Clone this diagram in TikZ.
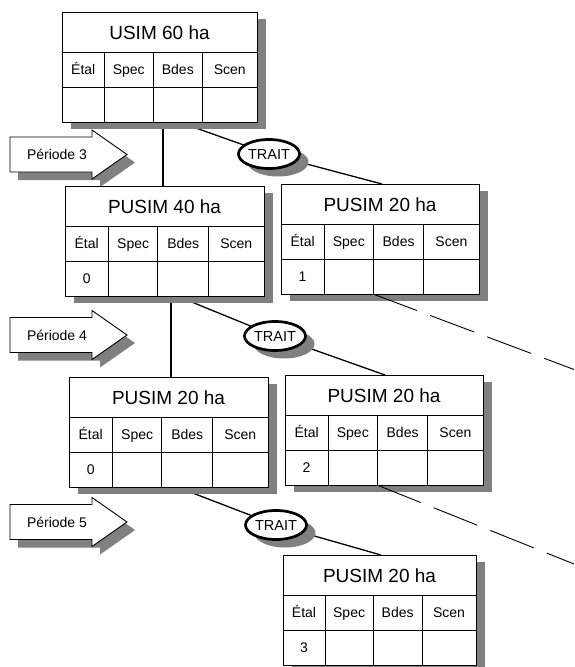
\documentclass[tikz,border=0pt]{standalone}
\usepackage{fontspec}
\setmainfont{Liberation Sans}
\usetikzlibrary{shadows,calc,shapes.geometric,backgrounds}
\pgfdeclarelayer{canvas}
\pgfsetlayers{canvas,background,main}
\tikzset{
  tframe/.style={draw=black, line width=0.9pt, fill=white, minimum height=110pt, inner sep=0pt, outer sep=0pt,
    drop shadow={shadow xshift=9pt, shadow yshift=-7pt, fill=black!50, opacity=1}},
  tline/.style={draw=black, line width=0.9pt},
  ttitle/.style={font=\fontsize{19}{22}\selectfont, inner sep=0pt, text height=13.6pt, text depth=0pt},
  thead/.style={font=\fontsize{14}{16}\selectfont, inner sep=0pt, text height=10pt, text depth=0pt},
  trait/.style={ellipse, draw=black, line width=2.7pt, fill=white, minimum width=61pt, minimum height=29pt,
    inner sep=0pt, font=\fontsize{14.5}{16}\selectfont, text height=10.4pt, text depth=0pt,
    drop shadow={shadow xshift=9pt, shadow yshift=-8pt, fill=black!50, opacity=1}},
  conn/.style={draw=black, line width=1.3pt},
  dashconn/.style={draw=black, line width=0.9pt, dash pattern=on 47pt off 14pt},
  perlabel/.style={font=\fontsize{14}{16}\selectfont, inner sep=0pt, text height=10pt, text depth=0pt},
  pershape/.style={draw=black, line width=0.9pt, fill=white},
  pershadow/.style={fill=black!50},
}
\newcommand\tbox[6]{%
  \pgfmathsetmacro\tbxa{#2+0.218*#4}%
  \pgfmathsetmacro\tbxb{#2+0.467*#4}%
  \pgfmathsetmacro\tbxc{#2+0.721*#4}%
  \pgfmathsetmacro\tbxr{#2+#4}%
  \node[tframe, minimum width=#4pt, anchor=north west] (#1) at (#2,#3) {};
  \draw[tline] (#2,#3+40) -- (\tbxr,#3+40);
  \draw[tline] (#2,#3+75) -- (\tbxr,#3+75);
  \draw[tline] (\tbxa,#3+40) -- (\tbxa,#3+110);
  \draw[tline] (\tbxb,#3+40) -- (\tbxb,#3+110);
  \draw[tline] (\tbxc,#3+40) -- (\tbxc,#3+110);
  \node[ttitle] (#1-t) at ($(#1.north)+(0,21)$) {#5};
  \node[thead] (#1-h1) at ({(#2+\tbxa)/2},#3+57.5) {Étal};
  \node[thead] (#1-h2) at ({(\tbxa+\tbxb)/2},#3+57.5) {Spec};
  \node[thead] (#1-h3) at ({(\tbxb+\tbxc)/2},#3+57.5) {Bdes};
  \node[thead] (#1-h4) at ({(\tbxc+\tbxr)/2},#3+57.5) {Scen};
  \node[thead] (#1-d) at ({(#2+\tbxa)/2},#3+92.5) {#6};
}
\newcommand\period[3]{%
  \path[pershadow, shift={(8,8)}] (10,#2-17.5) -- (92,#2-17.5) -- (92,#2-24.5) -- (127,#2) -- (92,#2+24.5) -- (92,#2+17.5) -- (10,#2+17.5) -- cycle;
  \path[pershape] (10,#2-17.5) -- (92,#2-17.5) -- (92,#2-24.5) -- (127,#2) -- (92,#2+24.5) -- (92,#2+17.5) -- (10,#2+17.5) -- cycle;
  \node[perlabel] (#1) at (57,#2) {#3};
}
\begin{document}
\begin{tikzpicture}[x=1pt,y=-1pt]
\useasboundingbox (0,0) rectangle (574,667);
\begin{pgfonlayer}{canvas}
  \fill[white] (0,0) rectangle (574,667);
\end{pgfonlayer}

\period{p3}{154.5}{Période 3}
\period{p4}{335}{Période 4}
\period{p5}{522}{Période 5}

\tbox{b1}{62}{12}{195}{USIM 60 ha}{}
\tbox{b2}{65}{186}{199}{PUSIM 40 ha}{0}
\tbox{b3}{281}{184}{198}{PUSIM 20 ha}{1}
\tbox{b4}{69}{377}{199}{PUSIM 20 ha}{0}
\tbox{b5}{285}{375}{198}{PUSIM 20 ha}{2}
\tbox{b6}{283}{555}{193}{PUSIM 20 ha}{3}

\node[trait] (e1) at (269,154) {TRAIT};
\node[trait] (e2) at (275,336) {TRAIT};
\node[trait] (e3) at (276,525) {TRAIT};

\coordinate (d1) at (574,369.5);
\coordinate (d2) at (574,564);
\draw[dashconn] ($(b3.south west)+(92,0)$) -- (d1);
\draw[dashconn] ($(b5.south west)+(92,0)$) -- (d2);

\begin{pgfonlayer}{background}
  \draw[conn] ($(b1.south west)+(101,0)$) coordinate (v1) -- (v1 |- b2.north);
  \draw[conn] ($(b1.south west)+(117,0)$) -- (e1.center);
  \draw[conn] (e1.center) -- ($(b3.north west)+(101,0)$);
  \draw[conn] ($(b2.south west)+(106,0)$) coordinate (v2) -- (v2 |- b4.north);
  \draw[conn] ($(b2.south west)+(112,0)$) -- (e2.center);
  \draw[conn] (e2.center) -- ($(b5.north west)+(100,0)$);
  \draw[conn] ($(b4.south west)+(108,0)$) -- (e3.center);
  \draw[conn] (e3.center) -- ($(b6.north west)+(98,0)$);
\end{pgfonlayer}
\end{tikzpicture}
\end{document}
